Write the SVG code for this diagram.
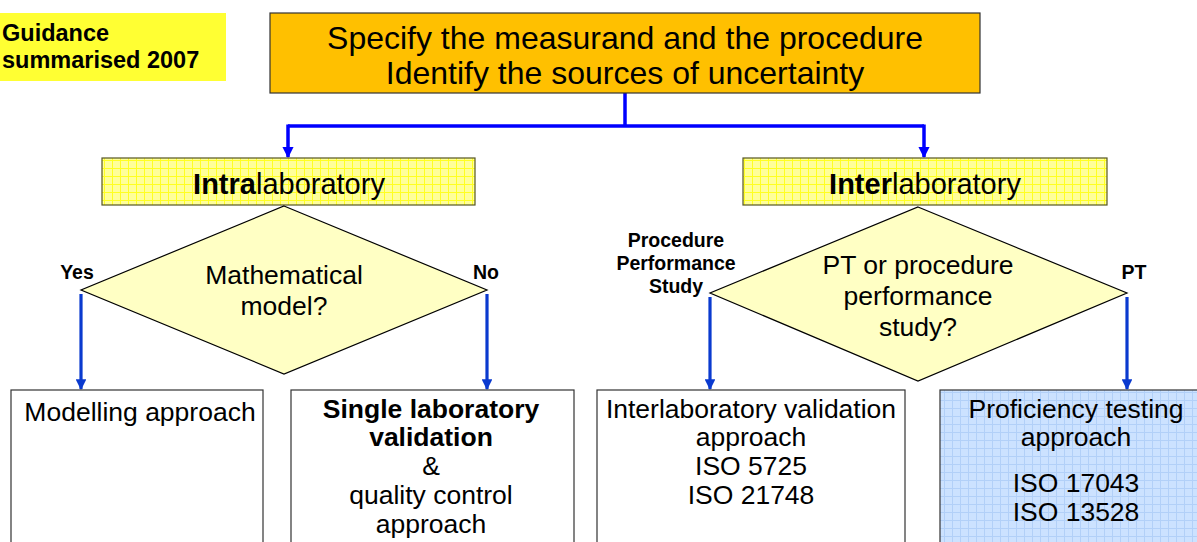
<svg xmlns="http://www.w3.org/2000/svg" width="1197" height="542" viewBox="0 0 1197 542">
<style>
text{font-family:"Liberation Sans",Arial,sans-serif;fill:#000}
.big{font-size:32px;text-anchor:middle}
.hd{font-size:29px;text-anchor:middle}
.md{font-size:26.5px;text-anchor:middle}
.lbl{font-size:19.5px;font-weight:bold;text-anchor:middle}
.b{font-weight:bold}
.box{fill:#fff;stroke:#333;stroke-width:1.2}
.dia{fill:#FFFFC4;stroke:#000;stroke-width:1.2}
.top{fill:none;stroke:#0000FF;stroke-width:3.5}
.arr{fill:none;stroke:#0A3ACF;stroke-width:3.2}
</style>
<defs>
<pattern id="gy" width="8" height="8" patternUnits="userSpaceOnUse">
<rect width="8" height="8" fill="#FFFF99"/>
<path d="M0,0.5H8M0.5,0V8" stroke="#FFFF22" stroke-width="1"/>
</pattern>
<pattern id="gb" width="8" height="8" patternUnits="userSpaceOnUse">
<rect width="8" height="8" fill="#CCE2FF"/>
<path d="M0,0.5H8M0.5,0V8" stroke="#B2D0F8" stroke-width="1"/>
</pattern>
<marker id="ab" viewBox="0 0 10 10" refX="9" refY="5" markerWidth="3.2" markerHeight="3.2" orient="auto" markerUnits="strokeWidth">
<path d="M0,0L10,5L0,10Z" fill="#0000FF"/>
</marker>
<marker id="ad" viewBox="0 0 10 10" refX="9" refY="5" markerWidth="3.4" markerHeight="3.4" orient="auto" markerUnits="strokeWidth">
<path d="M0,0L10,5L0,10Z" fill="#0A3ACF"/>
</marker>
</defs>

<g id="guidance">
<rect x="0" y="13" width="226" height="68" fill="#FFFF33"/>
<text x="2" y="41" font-size="23.5" class="b">Guidance</text>
<text x="2" y="68" font-size="23.5" class="b">summarised 2007</text>
</g>

<g id="connectors">
<path class="top" d="M625,93V126"/>
<path class="top" d="M288,126H924"/>
<path class="top" d="M288,124.5V157" marker-end="url(#ab)"/>
<path class="top" d="M924,124.5V157" marker-end="url(#ab)"/>
<path class="arr" d="M81,294V389" marker-end="url(#ad)"/>
<path class="arr" d="M487,294V389" marker-end="url(#ad)"/>
<path class="arr" d="M710,297V389" marker-end="url(#ad)"/>
<path class="arr" d="M1127,297V389" marker-end="url(#ad)"/>
</g>

<g id="start">
<rect x="270" y="13" width="710" height="80" fill="#FFC000" stroke="#333" stroke-width="1.2"/>
<text x="625" y="49" class="big">Specify the measurand and the procedure</text>
<text x="625" y="84" class="big">Identify the sources of uncertainty</text>
</g>

<g id="intra">
<rect x="102" y="158" width="373" height="47" fill="url(#gy)" stroke="#555522" stroke-width="1.2"/>
<text x="289" y="194" class="hd"><tspan class="b">Intra</tspan>laboratory</text>
</g>

<g id="inter">
<rect x="743" y="158" width="364" height="47" fill="url(#gy)" stroke="#555522" stroke-width="1.2"/>
<text x="925" y="194" class="hd"><tspan class="b">Inter</tspan>laboratory</text>
</g>

<g id="mathmodel">
<polygon class="dia" points="284,206 487,290 284,374 81,290"/>
<text x="284" y="284" class="md">Mathematical</text>
<text x="284" y="315" class="md">model?</text>
</g>

<g id="ptdecision">
<polygon class="dia" points="918,207 1127,293 918,381 710,293"/>
<text x="918" y="274" class="md">PT or procedure</text>
<text x="918" y="305" class="md">performance</text>
<text x="918" y="336" class="md">study?</text>
</g>

<g id="labels">
<text x="77" y="279" class="lbl">Yes</text>
<text x="486" y="279" class="lbl">No</text>
<text x="676" y="247" class="lbl">Procedure</text>
<text x="676" y="270" class="lbl">Performance</text>
<text x="676" y="293" class="lbl">Study</text>
<text x="1134" y="279" class="lbl">PT</text>
</g>

<g id="modelling">
<rect class="box" x="11" y="390" width="252" height="160"/>
<text x="140" y="421" class="md">Modelling approach</text>
</g>

<g id="single">
<rect class="box" x="291" y="390" width="283" height="160"/>
<text x="431" y="418" class="md b">Single laboratory</text>
<text x="431" y="446" class="md b">validation</text>
<text x="431" y="475" class="md">&amp;</text>
<text x="431" y="504" class="md">quality control</text>
<text x="431" y="533" class="md">approach</text>
</g>

<g id="interval">
<rect class="box" x="597" y="390" width="308" height="160"/>
<text x="751" y="418" class="md">Interlaboratory validation</text>
<text x="751" y="446" class="md">approach</text>
<text x="751" y="475" class="md">ISO 5725</text>
<text x="751" y="504" class="md">ISO 21748</text>
</g>

<g id="pt">
<rect x="940" y="390" width="270" height="160" fill="url(#gb)" stroke="#333" stroke-width="1.2"/>
<text x="1076" y="418" class="md">Proficiency testing</text>
<text x="1076" y="446" class="md">approach</text>
<text x="1076" y="492" class="md">ISO 17043</text>
<text x="1076" y="521" class="md">ISO 13528</text>
</g>
</svg>
